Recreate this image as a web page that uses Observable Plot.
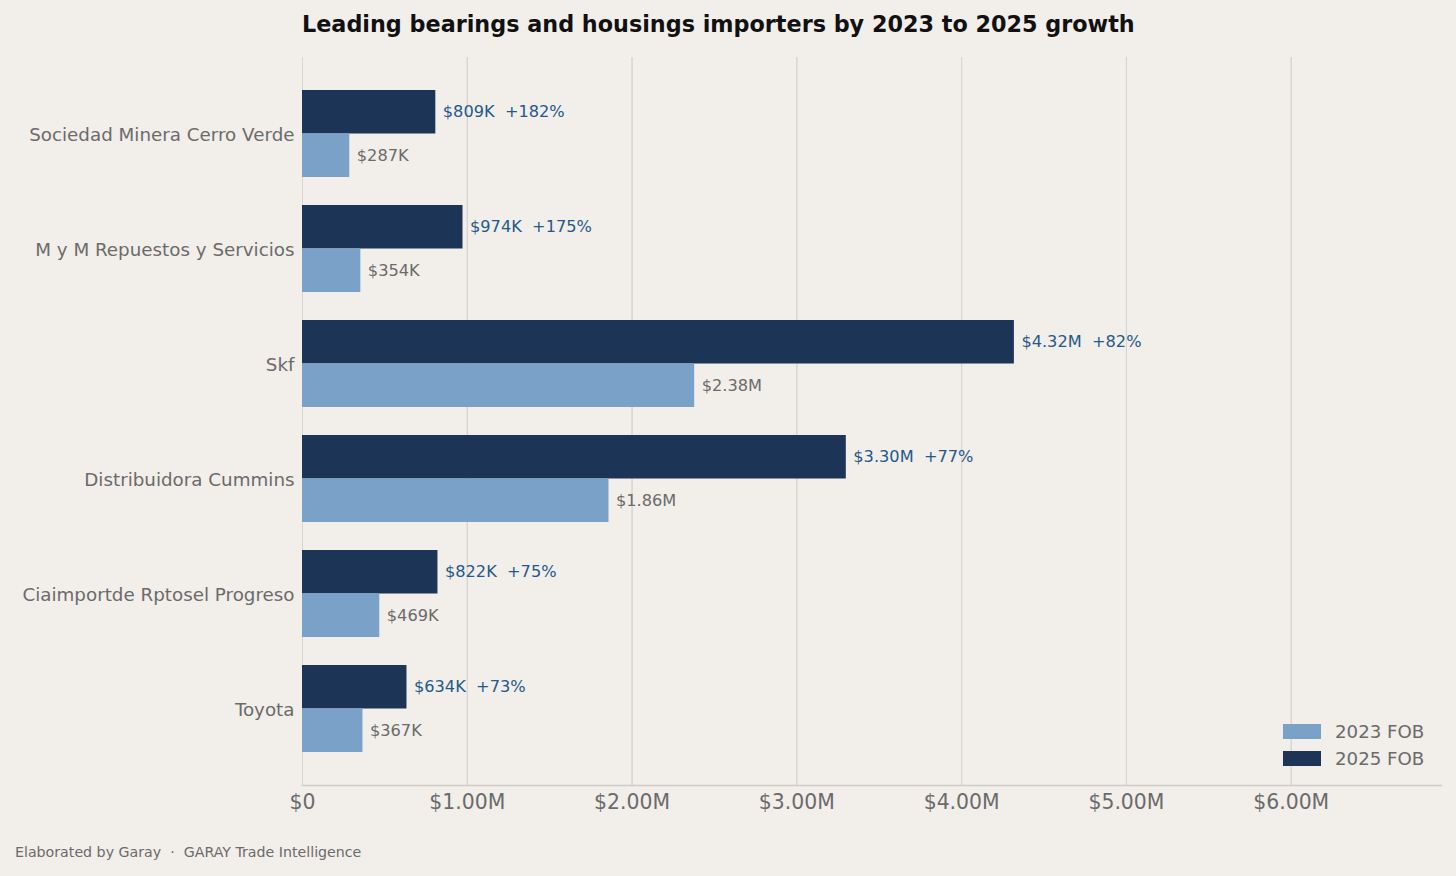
<!DOCTYPE html>
<html>
<head>
<meta charset="utf-8">
<script src="https://cdn.jsdelivr.net/npm/d3@7"></script>
<script src="https://cdn.jsdelivr.net/npm/@observablehq/plot@0.6"></script>
<style>
  html, body { margin: 0; padding: 0; background: #f2eeea; }
  body { width: 1456px; height: 876px; overflow: hidden; font-family: "DejaVu Sans", sans-serif; }
  #wrap { position: relative; width: 1456px; height: 876px; }
  #title { position: absolute; left: 302px; top: 11px; font-size: 22.3px; font-weight: bold; color: #111; white-space: nowrap; }
  #footer { position: absolute; left: 15px; top: 844px; font-size: 14.2px; color: #6b6b6b; white-space: pre; }
  #legend { position: absolute; left: 1283px; top: 718px; font-size: 18.2px; color: #6b6b6b; }
  .li { display: flex; align-items: center; height: 27px; }
  .sw { width: 38px; height: 15px; margin-right: 14px; }
  #chart { position: absolute; left: 0; top: 0; }
</style>
</head>
<body>
<div id="wrap">
  <div id="chart"></div>
  <div id="title">Leading bearings and housings importers by 2023 to 2025 growth</div>
  <div id="legend"></div>
  <div id="footer">Elaborated by Garay  ·  GARAY Trade Intelligence</div>
</div>
<script>
const companies = ["Sociedad Minera Cerro Verde", "M y M Repuestos y Servicios", "Skf", "Distribuidora Cummins", "Ciaimportde Rptosel Progreso", "Toyota"];
const fob2023 = [287e3, 354e3, 2.38e6, 1.86e6, 469e3, 367e3];
const fob2025 = [809e3, 974e3, 4.32e6, 3.30e6, 822e3, 634e3];
const growth = [182, 175, 82, 77, 75, 73];
const xTicks = [0, 1e6, 2e6, 3e6, 4e6, 5e6, 6e6];
const seriesNames = ["2023 FOB", "2025 FOB"];
const seriesColors = ["#7aa2c8", "#1c3557"];

const fmtVal = v => v >= 1e6 ? "$" + (v / 1e6).toFixed(2) + "M" : "$" + Math.round(v / 1e3) + "K";
const fmtTick = v => v === 0 ? "$0" : "$" + (v / 1e6).toFixed(2) + "M";

const rows = companies.map((c, i) => ({company: c, v23: fob2023[i], v25: fob2025[i], g: growth[i]}));
const half = 43.5;

const chart = Plot.plot({
  width: 1456,
  height: 876,
  marginLeft: 302,
  marginRight: 15,
  marginTop: 57,
  marginBottom: 91,
  style: {background: "transparent", fontFamily: "DejaVu Sans, sans-serif"},
  x: {domain: [0, 4.32e6 * 1.6], ticks: xTicks, tickFormat: fmtTick, grid: true, label: null},
  y: {domain: companies, paddingInner: 0.245, paddingOuter: 0.2825, label: null},
  marks: [
    Plot.gridX(xTicks, {stroke: "#d9d4d0", strokeOpacity: 1, strokeWidth: 1}),
    Plot.barX(rows, {y: "company", x: "v25", fill: seriesColors[1], insetBottom: half}),
    Plot.barX(rows, {y: "company", x: "v23", fill: seriesColors[0], insetTop: half}),
    Plot.text(rows, {y: "company", x: "v25", text: d => fmtVal(d.v25) + "\u00a0\u00a0+" + d.g + "%", dx: 7, dy: -half / 2, textAnchor: "start", fill: "#25598a", fontSize: 16.2}),
    Plot.text(rows, {y: "company", x: "v23", text: d => fmtVal(d.v23), dx: 7, dy: half / 2, textAnchor: "start", fill: "#6b6b6b", fontSize: 16.2}),
    Plot.axisY({tickSize: 0, tickPadding: 8, fontSize: 18.3, fill: "#6b6b6b", dy: 1}),
    Plot.axisX({ticks: xTicks, tickFormat: fmtTick, tickSize: 0, tickPadding: 9, fontSize: 20.4, fill: "#6b6b6b"}),
    Plot.frame({anchor: "bottom", stroke: "#cfcac6", strokeWidth: 1.5})
  ]
});
document.getElementById("chart").appendChild(chart);

const legend = document.getElementById("legend");
seriesNames.forEach((n, i) => {
  const d = document.createElement("div");
  d.className = "li";
  d.innerHTML = `<div class="sw" style="background:${seriesColors[i]}"></div><span>${n}</span>`;
  legend.appendChild(d);
});
</script>
</body>
</html>
